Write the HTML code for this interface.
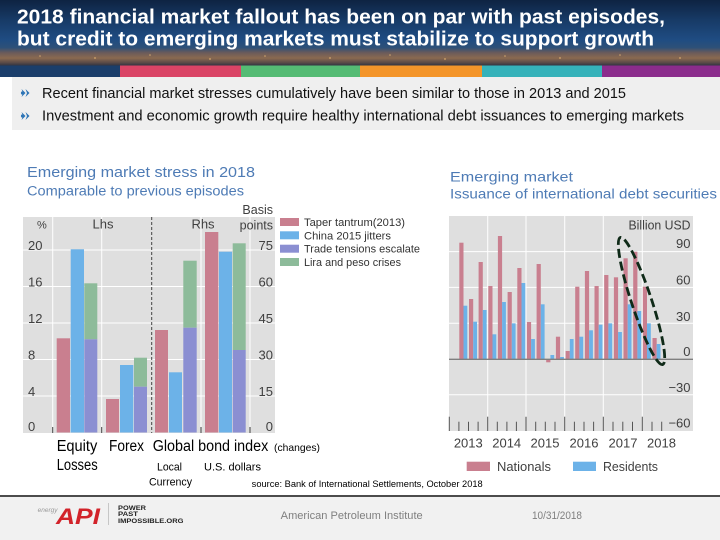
<!DOCTYPE html>
<html>
<head>
<meta charset="utf-8">
<style>
  html,body{margin:0;padding:0;background:#fff;}
  svg{display:block;}
  text{font-family:"Liberation Sans","DejaVu Sans",sans-serif;}
</style>
</head>
<body>
<svg width="720" height="540" viewBox="0 0 720 540" xmlns="http://www.w3.org/2000/svg">
  <defs>
    <linearGradient id="hdr" x1="0" y1="0" x2="0" y2="1">
      <stop offset="0" stop-color="#0e2342"/>
      <stop offset="0.3" stop-color="#173a66"/>
      <stop offset="0.6" stop-color="#1f4c82"/>
      <stop offset="0.72" stop-color="#2d5078"/>
      <stop offset="0.8" stop-color="#6b5b5a"/>
      <stop offset="0.88" stop-color="#8a6a50"/>
      <stop offset="0.95" stop-color="#5a4a48"/>
      <stop offset="1" stop-color="#2a3040"/>
    </linearGradient>
  </defs>

  <!-- Header -->
  <rect x="0" y="0" width="720" height="66" fill="url(#hdr)"/>
  <g fill="#f5c27a" opacity="0.7">
    <circle cx="40" cy="56" r="0.8"/><circle cx="95" cy="58" r="0.9"/><circle cx="150" cy="55" r="0.8"/>
    <circle cx="210" cy="59" r="0.9"/><circle cx="265" cy="56" r="0.8"/><circle cx="330" cy="58" r="0.9"/>
    <circle cx="390" cy="55" r="0.8"/><circle cx="445" cy="59" r="0.9"/><circle cx="505" cy="56" r="0.8"/>
    <circle cx="560" cy="58" r="0.9"/><circle cx="620" cy="55" r="0.8"/><circle cx="680" cy="58" r="0.9"/>
  </g>
  <text x="17" y="23.5" font-size="20" font-weight="bold" fill="#ffffff" textLength="648" lengthAdjust="spacingAndGlyphs">2018 financial market fallout has been on par with past episodes,</text>
  <text x="17" y="45.5" font-size="20" font-weight="bold" fill="#ffffff" textLength="637" lengthAdjust="spacingAndGlyphs">but credit to emerging markets must stabilize to support growth</text>

  <!-- Color stripes -->
  <rect x="0" y="65.5" width="120" height="11.5" fill="#1b3e6b"/>
  <rect x="120" y="65.5" width="121" height="11.5" fill="#da4466"/>
  <rect x="241" y="65.5" width="119" height="11.5" fill="#55bb74"/>
  <rect x="360" y="65.5" width="122" height="11.5" fill="#f4952a"/>
  <rect x="482" y="65.5" width="120" height="11.5" fill="#35b2ba"/>
  <rect x="602" y="65.5" width="118" height="11.5" fill="#8b2c8c"/>

  <!-- Bullets area -->
  <rect x="12" y="77" width="708" height="53" fill="#efefef"/>
  <g fill="#2e75b6">
    <path d="M21.5 89 L25.5 93 L21.5 97 L23 93 Z"/>
    <path d="M25.5 89 L29.5 93 L25.5 97 L27 93 Z"/>
    <path d="M21.5 112 L25.5 116 L21.5 120 L23 116 Z"/>
    <path d="M25.5 112 L29.5 116 L25.5 120 L27 116 Z"/>
    <circle cx="22.5" cy="93" r="1.6"/>
    <circle cx="22.5" cy="116" r="1.6"/>
  </g>
  <text x="42" y="98" font-size="14.5" fill="#111" textLength="584" lengthAdjust="spacingAndGlyphs">Recent financial market stresses cumulatively have been similar to those in 2013 and 2015</text>
  <text x="42" y="120.5" font-size="14.5" fill="#111" textLength="642" lengthAdjust="spacingAndGlyphs">Investment and economic growth require healthy international debt issuances to emerging markets</text>

  <!-- Left chart titles -->
  <text x="27" y="177" font-size="14.5" fill="#4e7bb5" textLength="228" lengthAdjust="spacingAndGlyphs">Emerging market stress in 2018</text>
  <text x="27" y="195.5" font-size="13.5" fill="#4e7bb5" textLength="217" lengthAdjust="spacingAndGlyphs">Comparable to previous episodes</text>

  <!-- Left plot -->
  <rect x="23" y="217" width="252" height="216" fill="#dfdfdf"/>
  <g stroke="#ffffff" stroke-width="1">
    <line x1="23" y1="250" x2="275" y2="250"/>
    <line x1="23" y1="286.5" x2="275" y2="286.5"/>
    <line x1="23" y1="323" x2="275" y2="323"/>
    <line x1="23" y1="359.5" x2="275" y2="359.5"/>
    <line x1="23" y1="396" x2="275" y2="396"/>
    <line x1="52.7" y1="217" x2="52.7" y2="433"/>
    <line x1="101.7" y1="217" x2="101.7" y2="433"/>
    <line x1="201" y1="217" x2="201" y2="433"/>
    <line x1="250" y1="217" x2="250" y2="433"/>
  </g>
  <line x1="151.7" y1="217" x2="151.7" y2="433" stroke="#444" stroke-width="1" stroke-dasharray="3,2"/>
  <!-- Bars left -->
  <g>
    <rect x="56.7" y="338.3" width="13.3" height="94.2" fill="#c97f8f"/>
    <rect x="70.7" y="249.3" width="13.3" height="183.2" fill="#6cb2e8"/>
    <rect x="84.3" y="283.3" width="13" height="56" fill="#8dbb9a"/>
    <rect x="84.3" y="339.3" width="13" height="93.2" fill="#8b8fd2"/>
    <rect x="106" y="399" width="13" height="33.5" fill="#c97f8f"/>
    <rect x="120" y="365" width="13.3" height="67.5" fill="#6cb2e8"/>
    <rect x="134" y="357.7" width="13" height="29" fill="#8dbb9a"/>
    <rect x="134" y="386.7" width="13" height="45.8" fill="#8b8fd2"/>
    <rect x="155" y="330" width="13" height="102.5" fill="#c97f8f"/>
    <rect x="169" y="372.3" width="13" height="60.2" fill="#6cb2e8"/>
    <rect x="183.3" y="260.7" width="13.4" height="67" fill="#8dbb9a"/>
    <rect x="183.3" y="327.7" width="13.4" height="104.8" fill="#8b8fd2"/>
    <rect x="205" y="232" width="13.3" height="200.5" fill="#c97f8f"/>
    <rect x="219" y="251.7" width="13" height="180.8" fill="#6cb2e8"/>
    <rect x="232.7" y="243.3" width="13" height="106.7" fill="#8dbb9a"/>
    <rect x="232.7" y="350" width="13" height="82.5" fill="#8b8fd2"/>
  </g>
  <g stroke="#444" stroke-width="1">
    <line x1="52.7" y1="427" x2="52.7" y2="433"/>
    <line x1="101.7" y1="427" x2="101.7" y2="433"/>
    <line x1="201" y1="427" x2="201" y2="433"/>
    <line x1="250" y1="427" x2="250" y2="433"/>
  </g>
  <g font-size="13" fill="#404040">
    <text x="28" y="250">20</text>
    <text x="28" y="286.5">16</text>
    <text x="28" y="323">12</text>
    <text x="28" y="359.5">8</text>
    <text x="28" y="396">4</text>
    <text x="28" y="431">0</text>
    <g text-anchor="end">
      <text x="273" y="250">75</text>
      <text x="273" y="286.5">60</text>
      <text x="273" y="323">45</text>
      <text x="273" y="359.5">30</text>
      <text x="273" y="396">15</text>
      <text x="273" y="431">0</text>
    </g>
    <text x="37" y="228.5" font-size="11">%</text>
    <text x="103" y="228.5" text-anchor="middle">Lhs</text>
    <text x="203" y="228.5" text-anchor="middle">Rhs</text>
    <text x="273" y="214" text-anchor="end" font-size="12.5">Basis</text>
    <text x="273" y="229.5" text-anchor="end" font-size="12.5">points</text>
  </g>

  <!-- Left legend -->
  <rect x="280" y="218" width="19" height="8" fill="#c97f8f"/>
  <rect x="280" y="231.3" width="19" height="8" fill="#6cb2e8"/>
  <rect x="280" y="244.7" width="19" height="8" fill="#8b8fd2"/>
  <rect x="280" y="258" width="19" height="8" fill="#8dbb9a"/>
  <g font-size="11" fill="#333">
    <text x="304" y="226" textLength="101" lengthAdjust="spacingAndGlyphs">Taper tantrum(2013)</text>
    <text x="304" y="239.5" textLength="87" lengthAdjust="spacingAndGlyphs">China 2015 jitters</text>
    <text x="304" y="252.5" textLength="116" lengthAdjust="spacingAndGlyphs">Trade tensions escalate</text>
    <text x="304" y="266" textLength="97" lengthAdjust="spacingAndGlyphs">Lira and peso crises</text>
  </g>

  <!-- Left category labels -->
  <g fill="#000">
    <text x="56.7" y="451" font-size="15.5" textLength="40.6" lengthAdjust="spacingAndGlyphs">Equity</text>
    <text x="109" y="451" font-size="15.5" textLength="35" lengthAdjust="spacingAndGlyphs">Forex</text>
    <text x="152.7" y="451" font-size="15.5" textLength="115.6" lengthAdjust="spacingAndGlyphs">Global bond index</text>
    <text x="274" y="451" font-size="10.5" textLength="46" lengthAdjust="spacingAndGlyphs">(changes)</text>
    <text x="56.7" y="470" font-size="15.5" textLength="41" lengthAdjust="spacingAndGlyphs">Losses</text>
    <text x="157" y="470.5" font-size="11" textLength="25" lengthAdjust="spacingAndGlyphs">Local</text>
    <text x="204" y="470.5" font-size="11" textLength="57" lengthAdjust="spacingAndGlyphs">U.S. dollars</text>
    <text x="149" y="485.5" font-size="11" textLength="43" lengthAdjust="spacingAndGlyphs">Currency</text>
    <text x="251.7" y="487" font-size="9" textLength="231" lengthAdjust="spacingAndGlyphs">source: Bank of International Settlements, October 2018</text>
  </g>

  <!-- Right chart titles -->
  <text x="450" y="181.5" font-size="14" fill="#4e7bb5" textLength="123" lengthAdjust="spacingAndGlyphs">Emerging market</text>
  <text x="450" y="198.5" font-size="14" fill="#4e7bb5" textLength="267" lengthAdjust="spacingAndGlyphs">Issuance of international debt securities</text>

  <!-- Right plot -->
  <rect x="449" y="216" width="244" height="215" fill="#dfdfdf"/>
  <g stroke="#ffffff" stroke-width="1">
    <line x1="449" y1="251.6" x2="693" y2="251.6"/>
    <line x1="449" y1="287.4" x2="693" y2="287.4"/>
    <line x1="449" y1="323.3" x2="693" y2="323.3"/>
    <line x1="449" y1="394.8" x2="693" y2="394.8"/>
    <line x1="487.7" y1="216" x2="487.7" y2="431"/>
    <line x1="526" y1="216" x2="526" y2="431"/>
    <line x1="564.7" y1="216" x2="564.7" y2="431"/>
    <line x1="603.3" y1="216" x2="603.3" y2="431"/>
    <line x1="642.3" y1="216" x2="642.3" y2="431"/>
  </g>
  <g>
    <g fill="#c97f8f">
      <rect x="459.3" y="242.7" width="4.2" height="116.6"/>
      <rect x="469.0" y="299" width="4.2" height="60.3"/>
      <rect x="478.6" y="262" width="4.2" height="97.3"/>
      <rect x="488.3" y="286" width="4.2" height="73.3"/>
      <rect x="497.9" y="236" width="4.2" height="123.3"/>
      <rect x="507.6" y="292" width="4.2" height="67.3"/>
      <rect x="517.3" y="268" width="4.2" height="91.3"/>
      <rect x="526.9" y="322" width="4.2" height="37.3"/>
      <rect x="536.6" y="264" width="4.2" height="95.3"/>
      <rect x="546.2" y="359.3" width="4.2" height="3"/>
      <rect x="555.9" y="336.7" width="4.2" height="22.6"/>
      <rect x="565.6" y="351" width="4.2" height="8.3"/>
      <rect x="575.2" y="286.7" width="4.2" height="72.6"/>
      <rect x="584.9" y="271" width="4.2" height="88.3"/>
      <rect x="594.5" y="286" width="4.2" height="73.3"/>
      <rect x="604.2" y="275" width="4.2" height="84.3"/>
      <rect x="613.9" y="277.3" width="4.2" height="82"/>
      <rect x="623.5" y="258.3" width="4.2" height="101"/>
      <rect x="633.2" y="251.7" width="4.2" height="107.6"/>
      <rect x="642.8" y="286.7" width="4.2" height="72.6"/>
      <rect x="652.5" y="338" width="4.2" height="21.3"/>
    </g>
    <g fill="#6cb2e8">
      <rect x="463.5" y="305.7" width="3.8" height="53.6"/>
      <rect x="473.2" y="321.7" width="3.8" height="37.6"/>
      <rect x="482.8" y="310" width="3.8" height="49.3"/>
      <rect x="492.5" y="334.3" width="3.8" height="25"/>
      <rect x="502.1" y="302" width="3.8" height="57.3"/>
      <rect x="511.8" y="323.3" width="3.8" height="36"/>
      <rect x="521.5" y="283" width="3.8" height="76.3"/>
      <rect x="531.1" y="339" width="3.8" height="20.3"/>
      <rect x="540.8" y="304.3" width="3.8" height="55"/>
      <rect x="550.4" y="355" width="3.8" height="4.3"/>
      <rect x="560.1" y="357" width="3.8" height="2.3"/>
      <rect x="569.8" y="339" width="3.8" height="20.3"/>
      <rect x="579.4" y="336.7" width="3.8" height="22.6"/>
      <rect x="589.1" y="330.3" width="3.8" height="29"/>
      <rect x="598.7" y="324.7" width="3.8" height="34.6"/>
      <rect x="608.4" y="323.3" width="3.8" height="36"/>
      <rect x="618.1" y="332" width="3.8" height="27.3"/>
      <rect x="627.7" y="304.3" width="3.8" height="55"/>
      <rect x="637.4" y="311" width="3.8" height="48.3"/>
      <rect x="647.0" y="323.3" width="3.8" height="36"/>
      <rect x="656.7" y="344" width="3.8" height="15.3"/>
    </g>
  </g>
  <line x1="449" y1="359.3" x2="693" y2="359.3" stroke="#7f7f7f" stroke-width="1.3"/>
  <g stroke="#555" stroke-width="1">
    <line x1="449.3" y1="416.7" x2="449.3" y2="431"/>
    <line x1="487.7" y1="416.7" x2="487.7" y2="431"/>
    <line x1="526" y1="416.7" x2="526" y2="431"/>
    <line x1="564.7" y1="416.7" x2="564.7" y2="431"/>
    <line x1="603.3" y1="416.7" x2="603.3" y2="431"/>
    <line x1="642.3" y1="416.7" x2="642.3" y2="431"/>
    <line x1="458.9" y1="421.7" x2="458.9" y2="431"/>
    <line x1="468.5" y1="421.7" x2="468.5" y2="431"/>
    <line x1="478.1" y1="421.7" x2="478.1" y2="431"/>
    <line x1="497.3" y1="421.7" x2="497.3" y2="431"/>
    <line x1="506.9" y1="421.7" x2="506.9" y2="431"/>
    <line x1="516.4" y1="421.7" x2="516.4" y2="431"/>
    <line x1="535.7" y1="421.7" x2="535.7" y2="431"/>
    <line x1="545.3" y1="421.7" x2="545.3" y2="431"/>
    <line x1="555.0" y1="421.7" x2="555.0" y2="431"/>
    <line x1="574.4" y1="421.7" x2="574.4" y2="431"/>
    <line x1="584.0" y1="421.7" x2="584.0" y2="431"/>
    <line x1="593.6" y1="421.7" x2="593.6" y2="431"/>
    <line x1="613.0" y1="421.7" x2="613.0" y2="431"/>
    <line x1="622.8" y1="421.7" x2="622.8" y2="431"/>
    <line x1="632.5" y1="421.7" x2="632.5" y2="431"/>
    <line x1="652.0" y1="421.7" x2="652.0" y2="431"/>
    <line x1="661.7" y1="421.7" x2="661.7" y2="431"/>
  </g>
  <ellipse cx="641.5" cy="301" rx="67" ry="10" fill="none" stroke="#0f2a18" stroke-width="2.8" stroke-dasharray="9,4" transform="rotate(71.6 641.5 301)"/>
  <g font-size="13" fill="#404040" text-anchor="end">
    <text x="690.5" y="229.5" font-size="12.5" textLength="62" lengthAdjust="spacingAndGlyphs">Billion USD</text>
    <text x="690.5" y="248">90</text>
    <text x="690.5" y="284.5">60</text>
    <text x="690.5" y="321">30</text>
    <text x="690.5" y="356">0</text>
    <text x="690.5" y="392">−30</text>
    <text x="690.5" y="427.5">−60</text>
  </g>
  <g font-size="13" fill="#404040" text-anchor="middle">
    <text x="468.3" y="447.5">2013</text>
    <text x="506.7" y="447.5">2014</text>
    <text x="545" y="447.5">2015</text>
    <text x="584" y="447.5">2016</text>
    <text x="623" y="447.5">2017</text>
    <text x="661.5" y="447.5">2018</text>
  </g>
  <rect x="466.7" y="461.7" width="23.3" height="9.3" fill="#c97f8f"/>
  <text x="497" y="471" font-size="13" fill="#404040" textLength="54" lengthAdjust="spacingAndGlyphs">Nationals</text>
  <rect x="573" y="461.7" width="23" height="9.3" fill="#6cb2e8"/>
  <text x="603" y="471" font-size="13" fill="#404040" textLength="55" lengthAdjust="spacingAndGlyphs">Residents</text>

  <!-- Footer -->
  <rect x="0" y="497" width="720" height="43" fill="#f1f1f1"/>
  <line x1="0" y1="496" x2="720" y2="496" stroke="#111" stroke-width="1.5"/>
  <text x="37.6" y="512" font-size="6.5" font-style="italic" fill="#999">energy</text>
  <text x="56" y="524" font-size="22" font-weight="bold" font-style="italic" fill="#d2232a" textLength="44" lengthAdjust="spacingAndGlyphs">API</text>
  <line x1="108.5" y1="503" x2="108.5" y2="525" stroke="#bbb" stroke-width="0.8"/>
  <g font-size="6.5" font-weight="bold" fill="#222">
    <text x="118" y="510" textLength="28" lengthAdjust="spacingAndGlyphs">POWER</text>
    <text x="118" y="516" textLength="20" lengthAdjust="spacingAndGlyphs">PAST</text>
    <text x="118" y="523" textLength="65.5" lengthAdjust="spacingAndGlyphs">IMPOSSIBLE.ORG</text>
  </g>
  <text x="280.7" y="519" font-size="11" fill="#7f7f7f" textLength="142" lengthAdjust="spacingAndGlyphs">American Petroleum Institute</text>
  <text x="532" y="519" font-size="11" fill="#7f7f7f" textLength="50" lengthAdjust="spacingAndGlyphs">10/31/2018</text>
</svg>
</body>
</html>
